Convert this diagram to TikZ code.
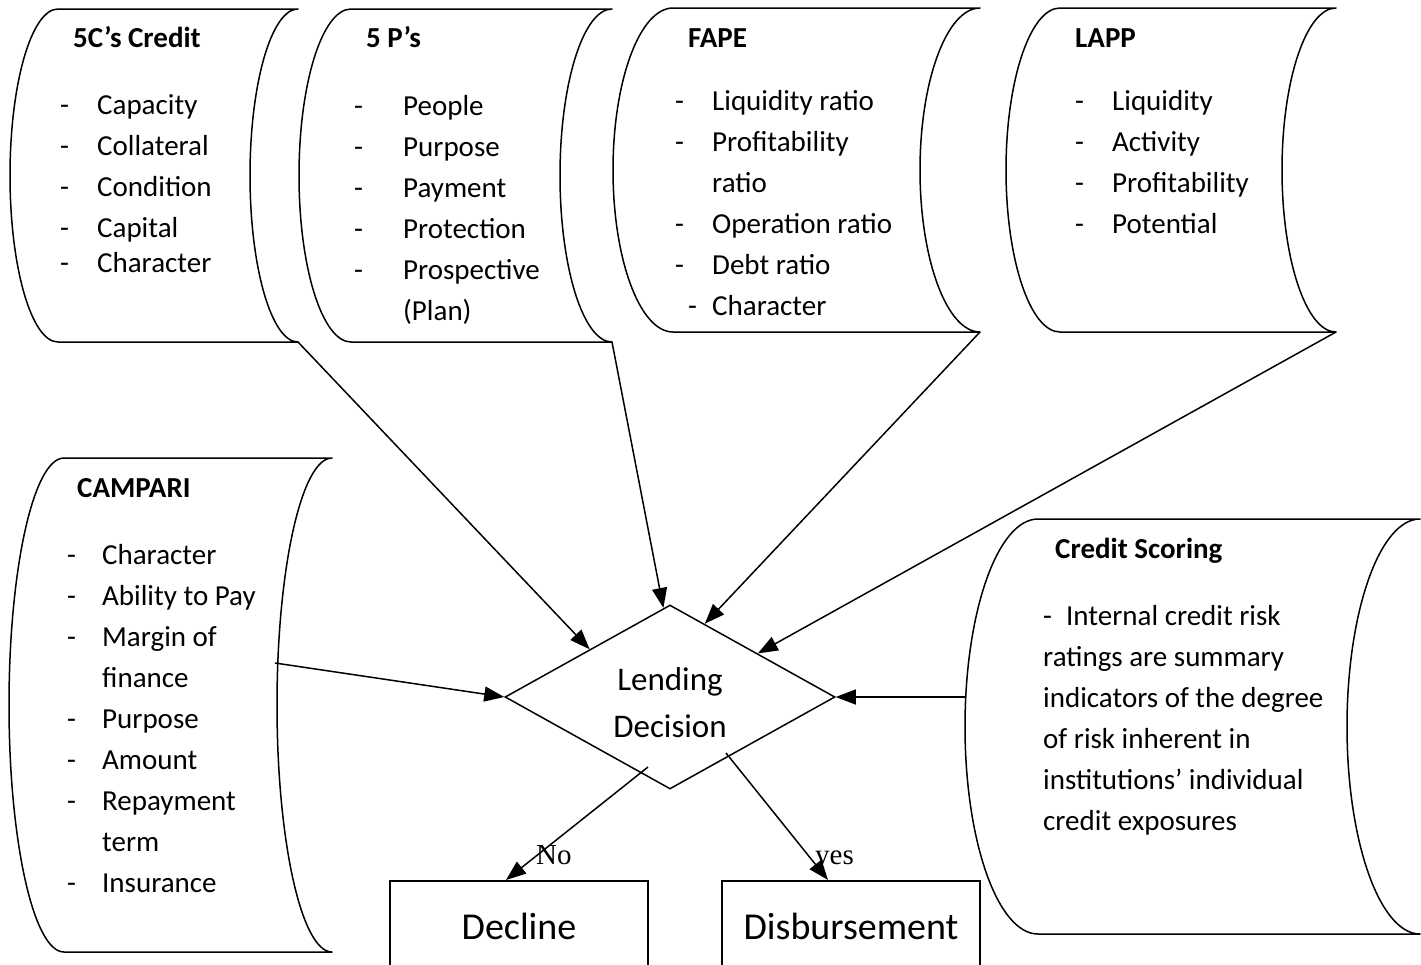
\documentclass[tikz,border=0pt]{standalone}
\usepackage{fontspec}
\setmainfont{Carlito}
\newfontfamily\tnr{Liberation Serif}
\usetikzlibrary{shapes.geometric,arrows.meta,calc}
% stored-data shape: #1 name, #2 left bulge x, #3 right corner x, #4 top y, #5 bottom y, #6 curve depth
\newcommand\sdbox[6]{%
 \pgfmathsetmacro\sdmid{(#4+#5)/2}%
 \pgfmathsetmacro\sdhh{(#5-#4)/2*0.5523}%
 \pgfmathsetmacro\sdkd{#6*0.5523}%
 \draw[sd] (#2+#6,#4) .. controls (#2+#6-\sdkd,#4) and (#2,\sdmid-\sdhh) .. (#2,\sdmid)
   .. controls (#2,\sdmid+\sdhh) and (#2+#6-\sdkd,#5) .. (#2+#6,#5)
   -- (#3,#5) .. controls (#3-\sdkd,#5) and (#3-#6,\sdmid+\sdhh) .. (#3-#6,\sdmid)
   .. controls (#3-#6,\sdmid-\sdhh) and (#3-\sdkd,#4) .. (#3,#4) -- cycle;
 \coordinate (#1-br) at (#3,#5);
}
\newcommand\lsitem[2][37pt]{\makebox[#1][l]{-}#2}
\newcommand\lscont[2][37pt]{\makebox[#1][l]{}#2}
\tikzset{
 sd/.style={draw, line width=1.5pt, line join=round},
 ttl/.style={font=\fontsize{29}{41}\selectfont\bfseries, anchor=base west, inner sep=0pt},
 lst/.style={font=\fontsize{29}{41}\selectfont, anchor=base west, inner sep=0pt},
 conn/.style={line width=1.5pt, -{Triangle[length=20pt,width=15pt]}},
 outbox/.style={draw, line width=1.5pt, minimum width=258pt, minimum height=92pt, anchor=north, inner sep=0pt, font=\fontsize{38}{46}\selectfont},
 yn/.style={font=\tnr\fontsize{29}{35}\selectfont, anchor=base west, inner sep=0pt}
}
\begin{document}
\begin{tikzpicture}[x=1pt, y=-1pt]
\useasboundingbox (0,0) rectangle (1421,964);
\clip (0,0) rectangle (1421,964);

% stored-data boxes
\sdbox{box1}{10}{298}{9}{342}{48}
\sdbox{box2}{299}{612}{9}{342}{52}
\sdbox{box3}{613}{980}{8}{332}{60}
\sdbox{box4}{1006}{1336}{8}{332}{54}
\sdbox{box5}{9}{332}{458}{952}{55}
\sdbox{box6}{965}{1420}{519}{934}{73}

% 5C's Credit
\node[ttl] (t1) at (73,47) {5C’s Credit};
\node[lst] (l1) at (60,114) {\begin{tabular}[t]{@{}l@{}}
\lsitem{Capacity}\\ \lsitem{Collateral}\\ \lsitem{Condition}\\ \lsitem{Capital}\\[-6pt] \lsitem{Character}
\end{tabular}};

% 5 P's
\node[ttl] (t2) at (366,47) {5 P’s};
\node[lst] (l2) at (354,115) {\begin{tabular}[t]{@{}l@{}}
\lsitem[49pt]{People}\\ \lsitem[49pt]{Purpose}\\ \lsitem[49pt]{Payment}\\ \lsitem[49pt]{Protection}\\ \lsitem[49pt]{Prospective}\\ \lscont[49pt]{(Plan)}
\end{tabular}};

% FAPE
\node[ttl] (t3) at (688,47) {FAPE};
\node[lst] (l3) at (675,110) {\begin{tabular}[t]{@{}l@{}}
\lsitem{Liquidity ratio}\\ \lsitem{Profitability}\\ \lscont{ratio}\\ \lsitem{Operation ratio}\\ \lsitem{Debt ratio}\\ \makebox[37pt][l]{\hspace{13pt}-}Character
\end{tabular}};

% LAPP
\node[ttl] (t4) at (1075,47) {LAPP};
\node[lst] (l4) at (1075,110) {\begin{tabular}[t]{@{}l@{}}
\lsitem{Liquidity}\\ \lsitem{Activity}\\ \lsitem{Profitability}\\ \lsitem{Potential}
\end{tabular}};

% CAMPARI
\node[ttl] (t5) at (77,497) {CAMPARI};
\node[lst] (l5) at (67,564) {\begin{tabular}[t]{@{}l@{}}
\lsitem[35pt]{Character}\\ \lsitem[35pt]{Ability to Pay}\\ \lsitem[35pt]{Margin of}\\ \lscont[35pt]{finance}\\ \lsitem[35pt]{Purpose}\\ \lsitem[35pt]{Amount}\\ \lsitem[35pt]{Repayment}\\ \lscont[35pt]{term}\\ \lsitem[35pt]{Insurance}
\end{tabular}};

% Credit Scoring
\node[ttl] (t6) at (1055,558) {Credit Scoring};
\node[lst] (l6) at (1043,625) {\begin{tabular}[t]{@{}l@{}}
\makebox[23pt][l]{-}Internal credit risk\\ ratings are summary\\ indicators of the degree\\ of risk inherent in\\ institutions’ individual\\ credit exposures
\end{tabular}};

% decision
\node[diamond, draw, line width=1.5pt, minimum width=330pt, minimum height=184pt, inner sep=0pt] (dec) at (670,697) {};
\node[font=\fontsize{33}{47}\selectfont, align=center, inner sep=0pt] (declab) at (670,703) {Lending\\Decision};

% outcomes
\node[outbox] (decl) at (519,880) {Decline};
\node[outbox] (disb) at (851,880) {Disbursement};

% free ends
\coordinate (a5s) at (275,663);
\coordinate (a6s) at (965,697);
\coordinate (nos) at (648,767);
\coordinate (yss) at (726,753);

% connectors
\draw[conn] (box1-br) -- ($(dec.north)!0.485!(dec.west)$);
\draw[conn] (box2-br) -- ($(dec.north)!0.04!(dec.west)$);
\draw[conn] (box3-br) -- ($(dec.north)!0.21!(dec.east)$);
\draw[conn] (box4-br) -- ($(dec.north)!0.53!(dec.east)$);
\draw[conn] (a5s) -- (dec.west);
\draw[conn] (a6s) -- (dec.east);
\draw[conn] (nos) -- ($(decl.north)+(-13,0)$);
\draw[conn] (yss) -- ($(disb.north)+(-23,0)$);

\node[yn] (no) at (536,864) {No};
\node[yn] (yes) at (815,864) {yes};
\end{tikzpicture}
\end{document}
